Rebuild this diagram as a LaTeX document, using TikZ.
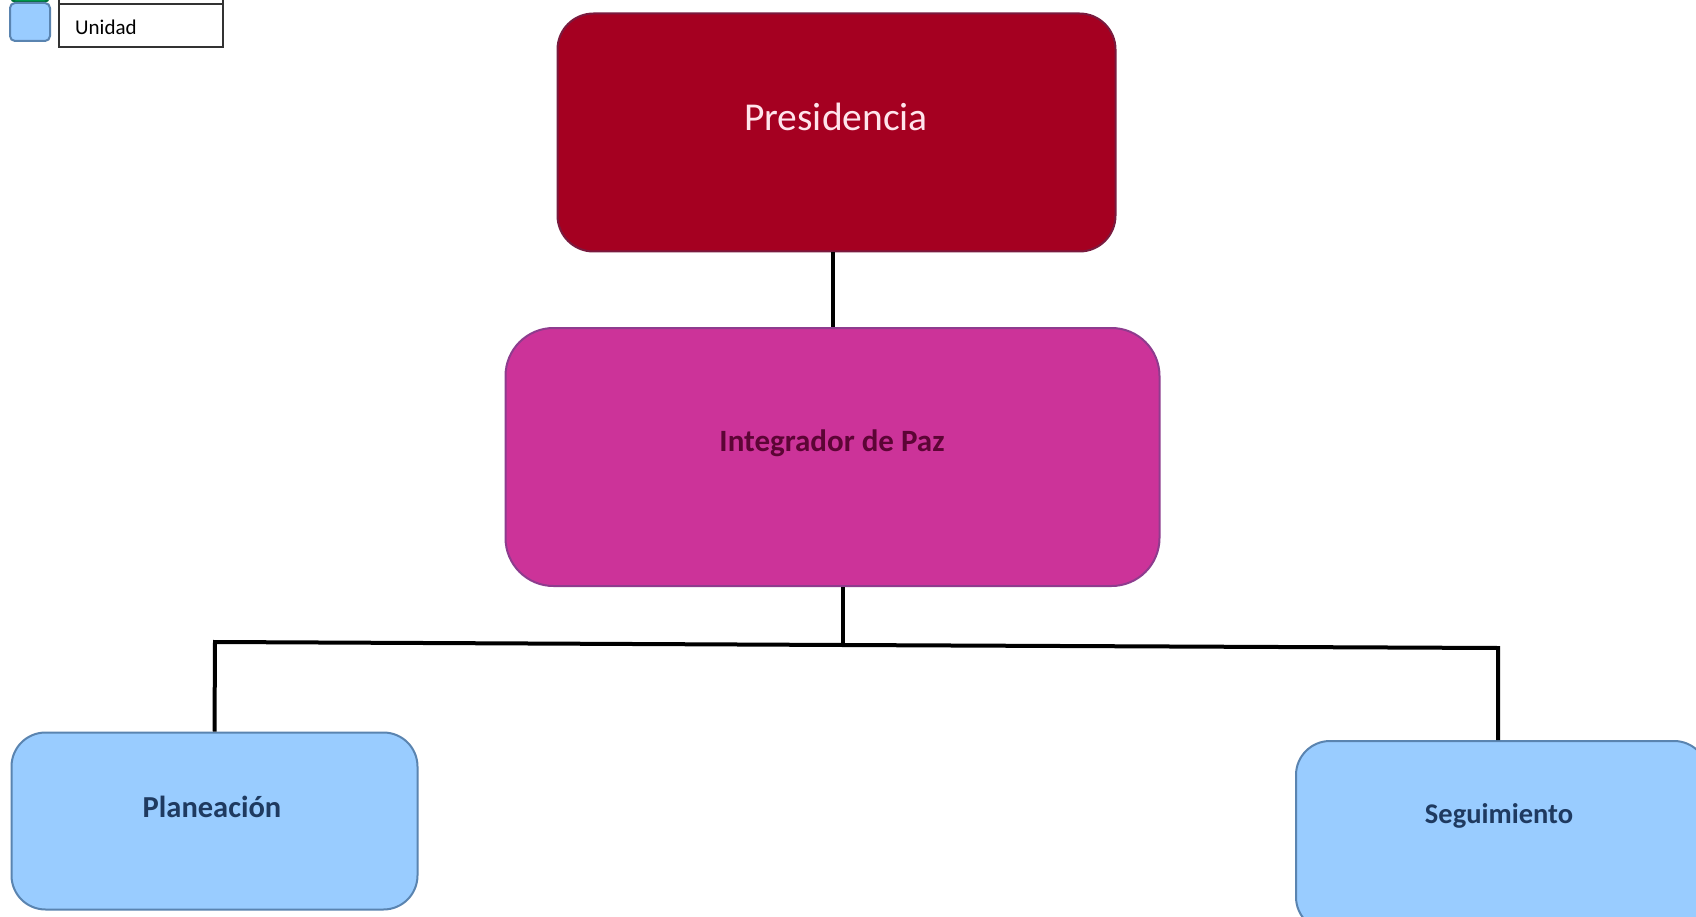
\documentclass[tikz,border=0pt]{standalone}
\usepackage{fontspec}
\setmainfont{Carlito}
\definecolor{presfill}{HTML}{A50021}
\definecolor{presdraw}{HTML}{7A1A3E}
\definecolor{presText}{HTML}{FFE4EC}
\definecolor{intfill}{HTML}{CC3399}
\definecolor{intdraw}{HTML}{8E3C8E}
\definecolor{intText}{HTML}{5C0535}
\definecolor{unifill}{HTML}{99CCFF}
\definecolor{unidraw}{HTML}{5A84B0}
\definecolor{uniText}{HTML}{1F3A60}
\definecolor{legGreen}{HTML}{00A050}
\begin{document}
\begin{tikzpicture}[x=1pt,y=-1pt,
  boxbase/.style={draw, line width=2pt, inner sep=0pt},
  presbox/.style={boxbase, fill=presfill, draw=presdraw, rounded corners=36pt},
  intbox/.style={boxbase, fill=intfill, draw=intdraw, rounded corners=48pt},
  unibox/.style={boxbase, fill=unifill, draw=unidraw, rounded corners=34pt},
  conn/.style={draw=black, line width=4pt},
  lbl/.style={inner sep=0pt, anchor=center}
]
\clip (0,0) rectangle (1696,917);
\useasboundingbox (0,0) rectangle (1696,917);
\fill[white] (0,0) rectangle (1696,917);

% legend
\node[boxbase, fill=legGreen, draw=legGreen!70!black, rounded corners=5pt, minimum width=38pt, minimum height=38pt] (leggreen) at (30,-17) {};
\node[boxbase, fill=unifill, draw=unidraw, rounded corners=5pt, minimum width=40pt, minimum height=38pt] (legblue) at (30,22) {};
\node[draw=black!80, line width=1.5pt, minimum width=164pt, minimum height=40pt, inner sep=0pt] (legtop) at (141,-16) {};
\node[draw=black!80, line width=1.5pt, minimum width=164pt, minimum height=43pt, inner sep=0pt] (legunidad) at (141,25.5) {};
\node[lbl, anchor=west, font=\fontsize{21}{25}\selectfont] (legtext) at (75,27) {Unidad};

% boxes
\node[presbox, minimum width=558pt, minimum height=238pt] (pres) at (836.5,132.5) {};
\node[lbl, text=presText, font=\fontsize{39.5}{47}\selectfont] (prestext) at (836,117) {Presidencia};

\node[intbox, minimum width=654pt, minimum height=258pt] (integ) at (832.5,457) {};
\node[lbl, text=intText, font=\bfseries\fontsize{31}{37}\selectfont] (integtext) at (832,443) {Integrador de Paz};

\node[unibox, minimum width=406pt, minimum height=177pt] (plan) at (214.5,821) {};
\node[lbl, text=uniText, font=\bfseries\fontsize{30.5}{37}\selectfont] (plantext) at (212,807) {Planeación};

\node[unibox, minimum width=412pt, minimum height=190pt] (seg) at (1502,836) {};
\node[lbl, text=uniText, font=\bfseries\fontsize{28.5}{35}\selectfont] (segtext) at (1499,816) {Seguimiento};

% connectors
\coordinate (bus) at (843,645);
\coordinate (busL) at (215,642);
\coordinate (busR) at (1498,648);
\draw[conn] (pres.south -| integ.north) -- (integ.north);
\draw[conn] (integ.south -| bus) -- (bus);
\draw[conn, line join=miter] (plan.north) -- (busL) -- (bus) -- (busR) -- (seg.north -| busR);
\end{tikzpicture}
\end{document}
